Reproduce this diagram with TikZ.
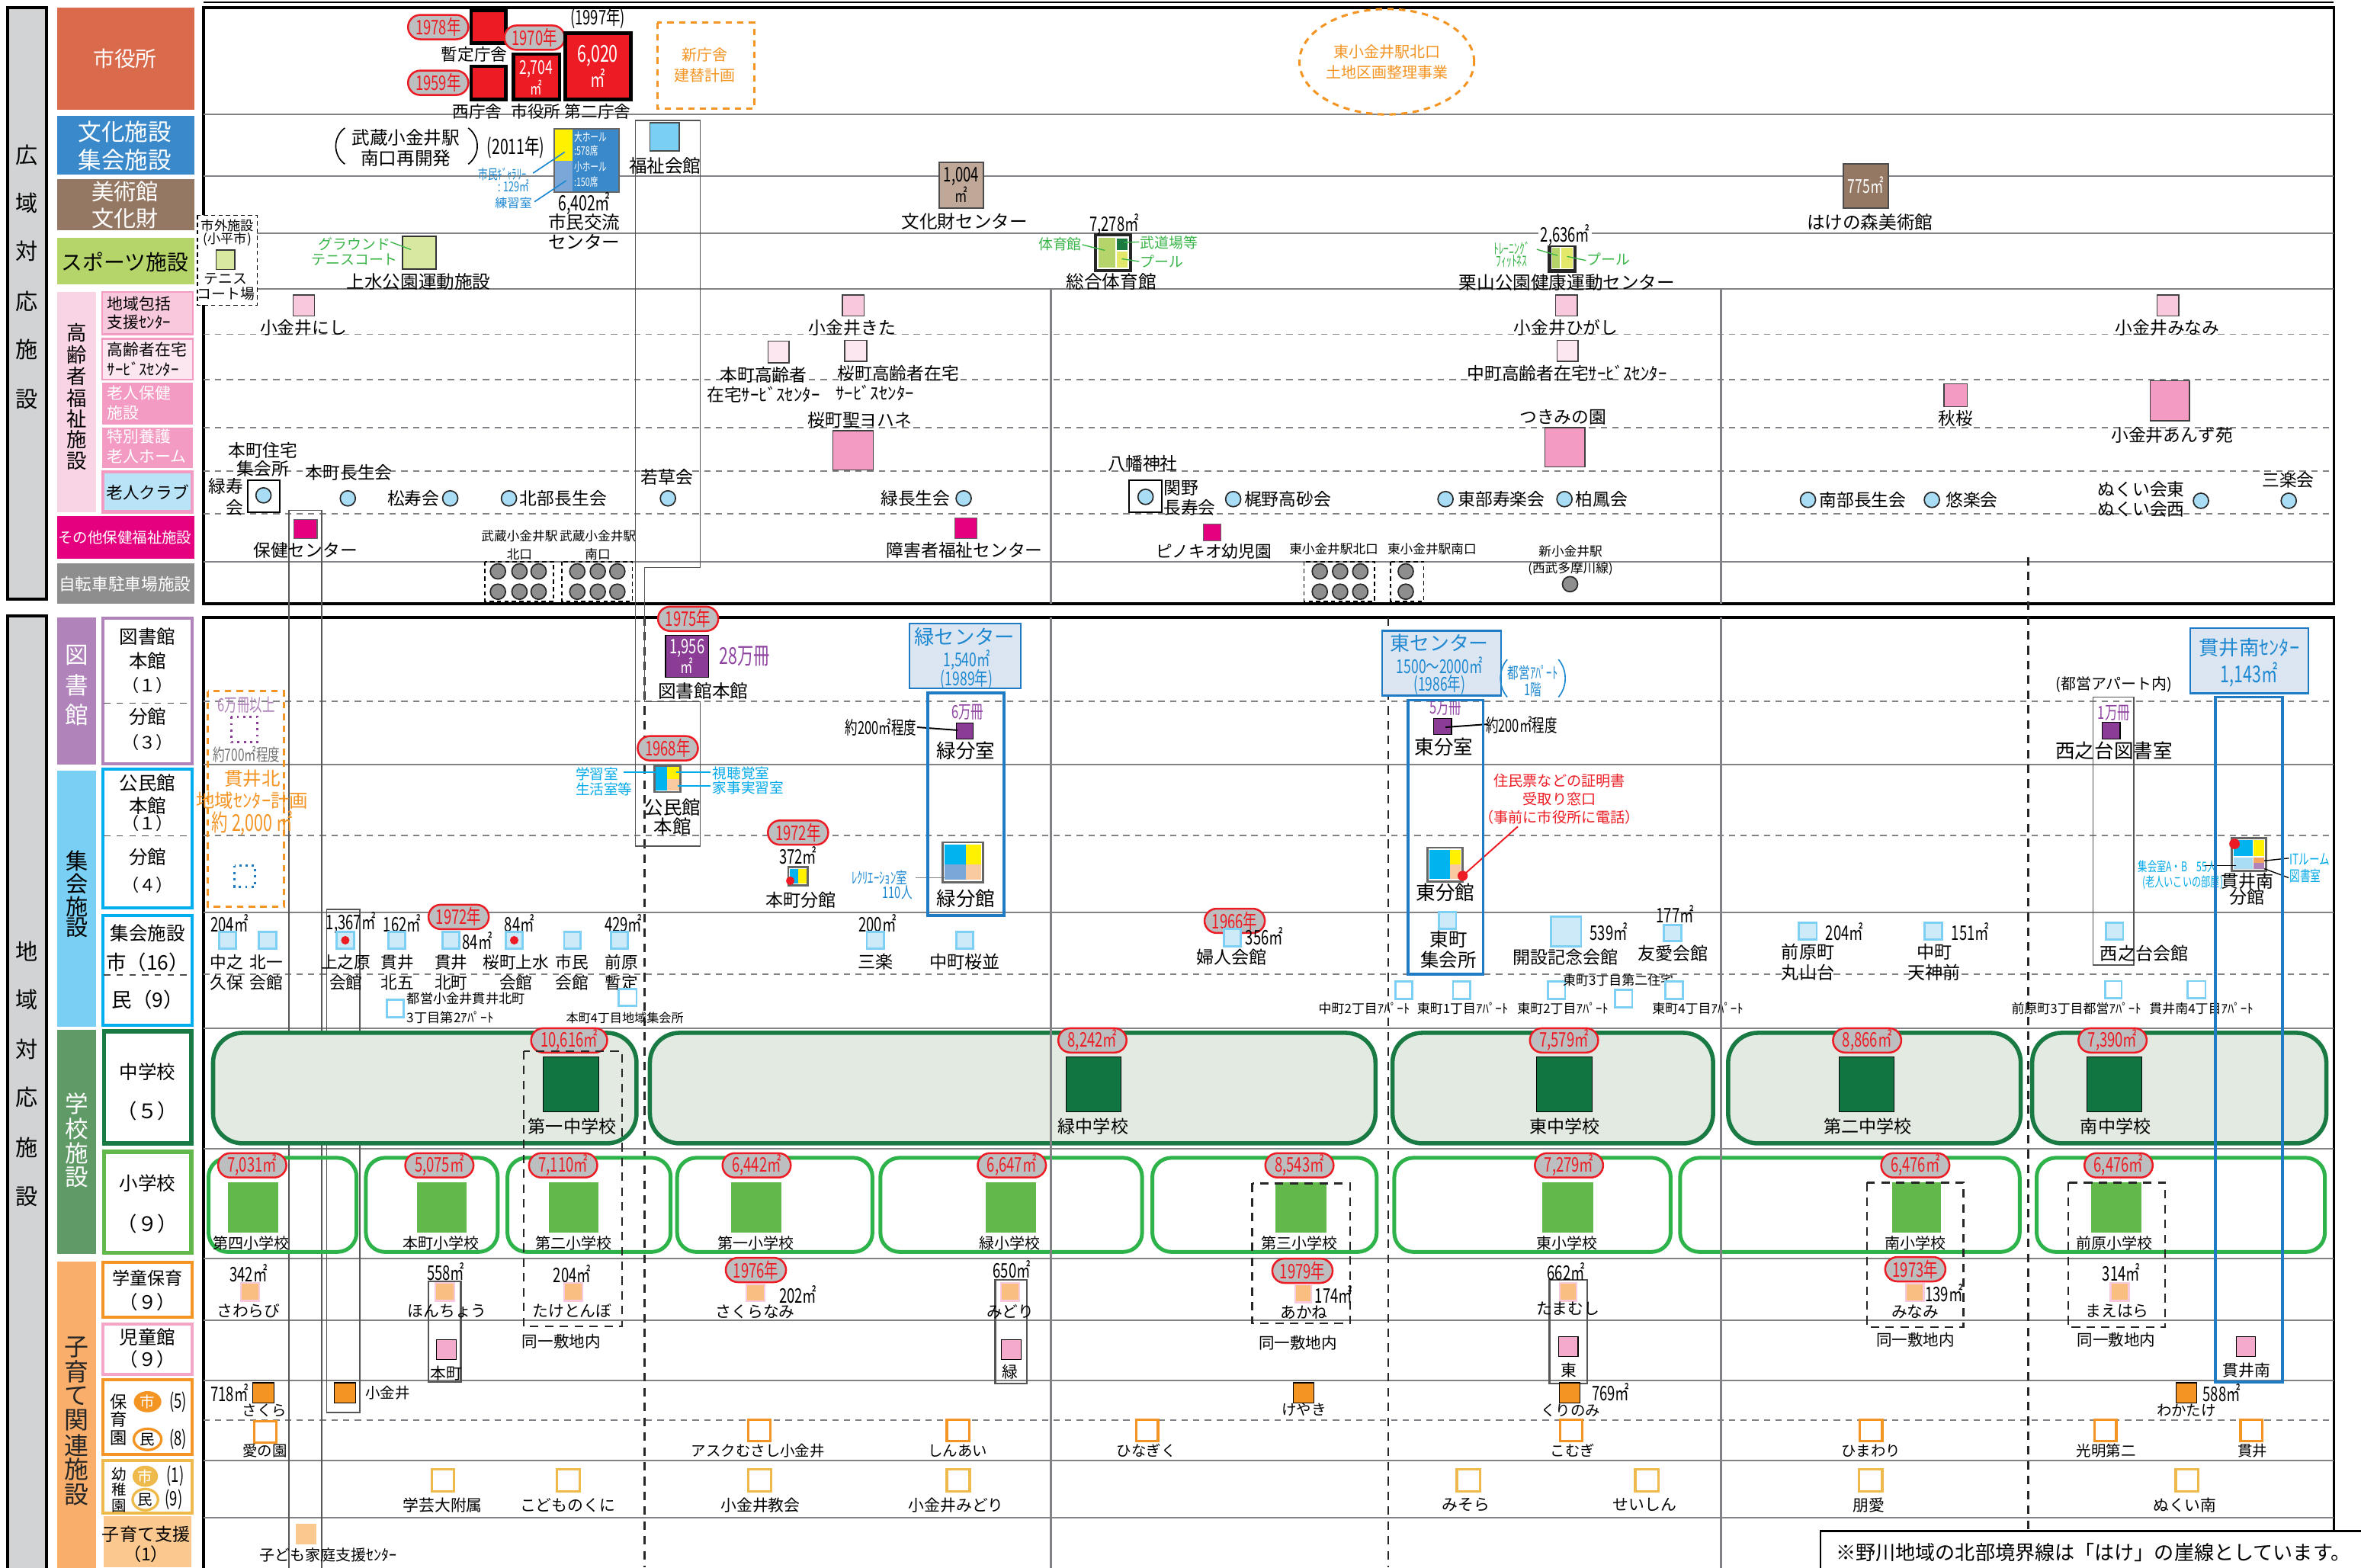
\documentclass[tikz,border=0pt]{standalone}
\usepackage{fontspec}
\setmainfont{Noto Sans CJK JP}
\newfontfamily\cnd[FakeStretch=0.7]{Noto Sans CJK JP}
\usetikzlibrary{shapes.misc,shapes.geometric}
\definecolor{cLeft}{HTML}{D1D3D4}
\definecolor{cRed}{HTML}{ED1C24}
\definecolor{cShiyaku}{HTML}{DA6A4C}
\definecolor{cBunka}{HTML}{3A8ACB}
\definecolor{cBijutsu}{HTML}{957863}
\definecolor{cSports}{HTML}{B5D56A}
\definecolor{cElderBg}{HTML}{F9D4E4}
\definecolor{cHokatsu}{HTML}{F8C8DC}
\definecolor{cZaitaku}{HTML}{FCE6F0}
\definecolor{cRoken}{HTML}{F39BC3}
\definecolor{cClub}{HTML}{B9E4F7}
\definecolor{cClubC}{HTML}{A8DDF5}
\definecolor{cSonota}{HTML}{E4007F}
\definecolor{cBike}{HTML}{8E8E8E}
\definecolor{cLib}{HTML}{B083BA}
\definecolor{cLibSq}{HTML}{8B3D96}
\definecolor{cShukai}{HTML}{7ACFF4}
\definecolor{cShukaiB}{HTML}{00AEEF}
\definecolor{cSchool}{HTML}{5F9A67}
\definecolor{cJHS}{HTML}{1A7A43}
\definecolor{cJHSsq}{HTML}{107540}
\definecolor{cJHSfill}{HTML}{E2EAE2}
\definecolor{cES}{HTML}{2DB34A}
\definecolor{cESsq}{HTML}{62B84A}
\definecolor{cKosodate}{HTML}{F9AE6B}
\definecolor{cGakudo}{HTML}{F39423}
\definecolor{cGakSq}{HTML}{F9BF80}
\definecolor{cGakBd}{HTML}{F8C9DE}
\definecolor{cJido}{HTML}{F4A6C8}
\definecolor{cJidoSq}{HTML}{F4AACB}
\definecolor{cYochi}{HTML}{EEBA4B}
\definecolor{cShien}{HTML}{FBC98F}
\definecolor{cPill}{HTML}{BDBEC0}
\definecolor{cBlueBox}{HTML}{1F7BC4}
\definecolor{cBlueFill}{HTML}{DCE6F2}
\definecolor{cCyan}{HTML}{00B5EF}
\definecolor{cYellow}{HTML}{FFF100}
\definecolor{cPeach}{HTML}{F9C9A0}
\definecolor{cLtBlue}{HTML}{7BA7D8}
\definecolor{cLtBlue2}{HTML}{A8DDF5}
\definecolor{cOrg2}{HTML}{F4A460}
\definecolor{cGreenTxt}{HTML}{3BB54A}
\definecolor{cBlueTxt}{HTML}{1E88D0}
\definecolor{cCyanTxt}{HTML}{00A9E8}
\definecolor{cOrange}{HTML}{F39423}
\definecolor{cGrid}{HTML}{808285}
\definecolor{cSportsSq}{HTML}{D9E8A0}
\definecolor{cBrownLt}{HTML}{BFA898}
\definecolor{cSqFill}{HTML}{CDEAF8}
\definecolor{cSqBd}{HTML}{7DD0F3}
\definecolor{cDkGreen}{HTML}{1A7A40}
\definecolor{cYelGreen}{HTML}{E4E86A}
\definecolor{cLibTxt}{HTML}{8E44A0}
\definecolor{cOutline}{HTML}{555555}
\tikzset{
  every node/.style={inner sep=0pt},
  fs/.style={font=\fontsize{#1}{\dimexpr #1pt*6/5\relax}\selectfont},
  cf/.style={font=\cnd\fontsize{#1}{\dimexpr #1pt*6/5\relax}\selectfont},
  pill/.style={rounded rectangle, draw=cRed, line width=0.9pt, fill=cPill, text=cRed, cf=9.5, inner xsep=1.5pt, inner ysep=0.5pt, minimum height=11.5pt},
  grid/.style={draw=cGrid, line width=0.8pt},
  gridd/.style={draw=cGrid, line width=0.7pt, dash pattern=on 3pt off 2.5pt},
  bdash/.style={draw=black!85, line width=0.9pt, dash pattern=on 4pt off 3pt},
  outl/.style={draw=cOutline, line width=0.6pt},
  bluebox/.style={draw=cBlueBox, line width=1.4pt},
  sqRed/.style={fill=cRed, draw=black, line width=1.6pt},
  sqHok/.style={fill=cHokatsu, draw=black!75, line width=0.5pt},
  sqZai/.style={fill=cZaitaku, draw=black!75, line width=0.5pt},
  sqRok/.style={fill=cRoken, draw=black!75, line width=0.5pt},
  sqMag/.style={fill=cSonota, draw=black!60, line width=0.4pt},
  sqShu/.style={fill=cSqFill, draw=cSqBd, line width=1pt},
  sqShuW/.style={fill=white, draw=cSqBd, line width=1pt},
  sqJHS/.style={fill=cJHSsq},
  sqES/.style={fill=cESsq},
  sqGak/.style={fill=cGakSq, draw=cGakBd, line width=0.8pt},
  sqJido/.style={fill=cJidoSq},
  sqHoi/.style={fill=cGakudo},
  sqHoiW/.style={fill=white, draw=cGakudo, line width=1.2pt},
  sqYo/.style={fill=white, draw=cYochi, line width=1.2pt},
  sqLib/.style={fill=cLibSq},
  club/.style={fill=cClubC, draw=black!85, line width=0.6pt},
  bike/.style={fill=cBike, draw=black!85, line width=0.6pt},
  jhsbox/.style={fill=cJHSfill, draw=cJHS, line width=2pt, rounded corners=14pt},
  esbox/.style={draw=cES, line width=1.8pt, rounded corners=9pt},
}
\newcommand\Tx[4][]{\node[fs=#3,#1] at (#2) {#4};}
\newcommand\Cx[4][]{\node[cf=#3,#1] at (#2) {#4};}
\newcommand\Rc[3]{\draw[#1] (#2) rectangle (#3);}
\newcommand\Ci[2]{\draw[#1] (#2) circle (3.6pt);}
\newcommand\Pl[2]{\node[pill] at (#1) {#2};}
\begin{document}
\begin{tikzpicture}[x=0.025cm,y=-0.025cm]
\useasboundingbox (0,0) rectangle (1568,1041);
\fill[white] (0,0) rectangle (1568,1041);

% ===== left columns =====
\draw[line width=1.5pt, fill=cLeft] (5,5) rectangle (31,398);
\foreach \c/\y in {広/103,域/135,対/167,応/200,施/232,設/265} \node[fs=10.5] at (18,\y) {\c};
\draw[line width=1.5pt, fill=cLeft] (5,409) rectangle (31,1046);
\foreach \c/\y in {地/632,域/664,対/697,応/729,施/762,設/795} \node[fs=10.5] at (18,\y) {\c};

\fill[cShiyaku] (38,5) rectangle (129,73); \Tx[white]{83,39}{10}{市役所}
\fill[cBunka] (38,77) rectangle (129,116); \Tx[white,align=center]{83,97}{11}{文化施設\\集会施設}
\fill[cBijutsu] (38,119) rectangle (129,153); \Tx[white,align=center]{83,136}{10.5}{美術館\\文化財}
\fill[cSports] (38,158) rectangle (129,189); \Tx{83,174}{10}{スポーツ施設}
\fill[cElderBg] (38,194) rectangle (64,340);
\foreach \c/\y in {高/221,齢/235.5,者/250,福/264.5,祉/278,施/292,設/306} \node[fs=9.5] at (51,\y) {\c};
\draw[fill=cHokatsu, draw=cRoken, line width=0.8pt] (68,194) rectangle (128,222);
\Tx[anchor=west]{71,202}{7.5}{地域包括} \Tx[anchor=west]{71,214}{7.5}{支援ｾﾝﾀｰ}
\draw[fill=cZaitaku, draw=cRoken, line width=0.8pt] (68,225) rectangle (128,252);
\Tx[anchor=west]{71,232}{7.5}{高齢者在宅} \Tx[anchor=west]{71,245}{7.5}{ｻｰﾋﾞｽｾﾝﾀｰ}
\fill[cRoken] (68,254) rectangle (128,282);
\Tx[anchor=west,white]{71,261}{7.5}{老人保健} \Tx[anchor=west,white]{71,274}{7.5}{施設}
\fill[cRoken] (68,284) rectangle (128,311);
\Tx[anchor=west,white]{71,290}{7.5}{特別養護} \Tx[anchor=west,white]{71,303}{7.5}{老人ホーム}
\draw[fill=cClub, draw=cRoken, line width=1.5pt] (68.5,313.5) rectangle (127.5,340);
\Tx{98,327}{7.8}{老人クラブ}
\fill[cSonota] (38,343) rectangle (129,371); \Tx[white]{83,357}{7}{その他保健福祉施設}
\fill[cBike] (38,374) rectangle (129,401); \Tx[white]{83,388}{7.8}{自転車駐車場施設}

\fill[cLib] (38,410) rectangle (64,508);
\foreach \c/\y in {図/435,書/455,館/475} \node[fs=11,white] at (51,\y) {\c};
\draw[fill=white, draw=cLib, line width=1.5pt] (68.5,410.5) rectangle (127.5,507.5);
\Tx{98,423}{8.8}{図書館} \Tx{98,439}{8.8}{本館} \Tx{98,455}{8}{（１）}
\draw[dashed, black!70, line width=0.5pt] (69,467) -- (127,467);
\Tx{98,476}{8.8}{分館} \Tx{98,493}{8}{（３）}

\fill[cShukai] (38,512) rectangle (64,682);
\foreach \c/\y in {集/572,会/587,施/602,設/616} \node[fs=10.5] at (51,\y) {\c};
\draw[fill=white, draw=cShukaiB, line width=1.5pt] (68.5,511) rectangle (127.5,603);
\Tx{98,520}{8.8}{公民館} \Tx{98,535}{8.8}{本館} \Tx{98,547}{8}{（１）}
\draw[dashed, black!70, line width=0.5pt] (69,555) -- (127,555);
\Tx{98,569}{8.8}{分館} \Tx{98,588}{8}{（４）}
\draw[fill=white, draw=cShukaiB, line width=1.5pt] (68.5,608) rectangle (127.5,681);
\Tx{98,620}{8.8}{集会施設} \Tx{98,639}{9.5}{市（16）}
\draw[dashed, black!70, line width=0.5pt] (69,647.6) -- (127,647.6);
\Tx{98,664}{9.5}{民（9）}

\fill[cSchool] (38,684) rectangle (64,833);
\foreach \c/\y in {学/733,校/750,施/766,設/782} \node[fs=11,white] at (51,\y) {\c};
\draw[fill=white, draw=cJHS, line width=2pt] (69,685) rectangle (127,759.5);
\Tx{98,712}{8.8}{中学校} \Tx{98,738}{9.5}{（５）}
\draw[fill=white, draw=cESsq, line width=2pt] (69,765) rectangle (127,832);
\Tx{98,786}{8.8}{小学校} \Tx{98,813}{9.5}{（９）}

\fill[cKosodate] (38,838) rectangle (64,1046);
\foreach \c/\y in {子/895,育/911,て/927,関/943,連/960,施/976,設/993} \node[fs=11.5,black!85] at (51,\y) {\c};
\draw[fill=white, draw=cGakudo, line width=1.5pt] (68.5,838.5) rectangle (127.5,875);
\Tx{98,849}{8.3}{学童保育} \Tx{98,865}{8.8}{（９）}
\draw[fill=white, draw=cJido, line width=1.5pt] (68.5,879.5) rectangle (127.5,913);
\Tx{98,888}{8.8}{児童館} \Tx{98,903}{8.8}{（９）}
\draw[fill=white, draw=cGakudo, line width=1.5pt] (68.5,916.5) rectangle (127.5,966);
\Tx{79,931}{8}{保} \Tx{79,942.5}{8}{育} \Tx{79,955}{8}{園}
\node[ellipse, fill=cGakudo, minimum width=13pt, minimum height=10pt, text=white, fs=7] at (98,931) {市};
\node[ellipse, draw=cGakudo, line width=1.2pt, minimum width=13pt, minimum height=10pt, fs=7] at (98,956) {民};
\Cx{118.4,931}{9.5}{(5)} \Cx{118.4,956}{9.5}{(8)}
\draw[fill=white, draw=cYochi, line width=1.5pt] (68.5,970) rectangle (127.5,1005);
\Tx{79,979}{7}{幼} \Tx{79,989.5}{7}{稚} \Tx{79,1000}{7}{園}
\node[ellipse, fill=cYochi, minimum width=12pt, minimum height=10pt, text=white, fs=7] at (96.5,980.5) {市};
\node[ellipse, draw=cYochi, line width=1.2pt, minimum width=12pt, minimum height=10pt, fs=7] at (96.5,996) {民};
\Cx{116.4,980.5}{9.5}{(1)} \Cx{115.4,996}{9.5}{(9)}
\fill[cShien] (69,1007) rectangle (127,1041);
\Tx{97,1019}{8.3}{子育て支援} \Tx{97,1032}{8.3}{（1）}

% ===== frames and grid =====
\draw[line width=0.6pt] (135,1.5) -- (1550,1.5);
\draw[line width=1.4pt] (135,5) rectangle (1550,401);
\foreach \y in {76,117,155,192,373} \draw[grid] (135,\y) -- (1550,\y);
\foreach \y in {222,252,284,313,341} \draw[gridd] (135,\y) -- (1550,\y);
\draw[grid, line width=1.2pt] (698,192) -- (698,401);
\draw[grid, line width=1.2pt] (1143,192) -- (1143,401);
\draw[line width=1.4pt] (135,410) rectangle (1550,1046);
\foreach \y in {508,606,683,763,836,877,917,970,1008} \draw[grid] (135,\y) -- (1550,\y);
\foreach \y in {466,555,647,943} \draw[gridd] (135,\y) -- (1550,\y);
\draw[bdash] (428,410) -- (428,1041);
\draw[bdash] (922,410) -- (922,1041);
\draw[bdash] (1347,370) -- (1347,1041);

% outline columns
\draw[outl] (192,339) rectangle (213.6,1046);
\draw[outl] (217,604) rectangle (239,938);
\draw[outl] (422,80) -- (465,80) -- (465,377) -- (428,377) -- (428,466) -- (465,466) -- (465,562) -- (422,562) -- cycle;
\draw[outl, line width=0.9pt] (284.6,851) rectangle (306,918);
\draw[outl, line width=0.9pt] (661,850) rectangle (682,919);
\draw[outl, line width=0.9pt] (1029,850) rectangle (1054,919);
\draw[outl] (1390,463) rectangle (1417,641);

% ===== 市役所 row =====
\Pl{291,18}{1978年}
\Rc{sqRed}{313,7}{336,28.6} \Tx{315,36}{7.8}{暫定庁舎}
\Pl{291,55}{1959年}
\Rc{sqRed}{313,44}{336,66} \Tx{317,74}{7.8}{西庁舎}
\Pl{355,25}{1970年}
\Rc{sqRed}{341,36}{371.5,66} \Cx[white]{356,46}{9}{2,704} \Cx[white]{356,58}{8}{㎡}
\Tx{356,74}{7.8}{市役所}
\Cx{397,12}{9.5}{(1997年)}
\Rc{sqRed}{375.5,22}{419,66} \Cx[white]{397,37}{11}{6,020} \Cx[white]{397,52}{10}{㎡}
\Tx{397,74}{7.8}{第二庁舎}
\draw[cOrange, line width=1.1pt, dash pattern=on 3pt off 2.5pt] (436.6,15) rectangle (501,72);
\Tx[cOrange]{468,36.5}{7.2}{新庁舎} \Tx[cOrange]{468,50}{7.2}{建替計画}
\draw[cOrange, line width=1.1pt, dash pattern=on 3pt off 2.5pt] (921,41) ellipse (1.45cm and 0.875cm);
\Tx[cOrange]{921,34.5}{7.2}{東小金井駅北口} \Tx[cOrange]{921,48}{7.2}{土地区画整理事業}

% ===== 文化施設 row =====
\draw[line width=0.6pt] (229,85) .. controls (221,91) and (221,103) .. (229,109);
\draw[line width=0.6pt] (311,85) .. controls (319,91) and (319,103) .. (311,109);
\Tx{269.5,91.5}{8.5}{武蔵小金井駅} \Tx{269.5,105}{8.5}{南口再開発}
\Cx{342.6,98}{10}{(2011年)}
\fill[cYellow] (368,85.5) rectangle (380,107);
\fill[cLtBlue] (368,107) rectangle (380,127.7);
\fill[cBunka] (380,85.5) rectangle (411,127.7);
\draw[draw=black!60, line width=0.8pt] (368,85.5) rectangle (411,127.7);
\Cx[white,anchor=west]{381,91}{5.5}{大ホール} \Cx[white,anchor=west]{381,100}{5.5}{:578席}
\Cx[white,anchor=west]{381,111}{5.5}{小ホール} \Cx[white,anchor=west]{381,121}{5.5}{:150席}
\draw[cBlueTxt, line width=0.6pt] (354,115) -- (375,101);
\draw[cBlueTxt, line width=0.6pt] (355,134) -- (376,120);
\Cx[cBlueTxt]{333.7,115.6}{6.5}{市民ｷﾞｬﾗﾘｰ} \Cx[cBlueTxt]{341,123.4}{6.5}{: 129㎡}
\Tx[cBlueTxt]{341,135}{5.8}{練習室}
\Cx{388,135}{10}{6,402㎡} \Tx{388,147.5}{8.5}{市民交流} \Tx{388,160.5}{8.5}{センター}
\draw[fill=cShukai, draw=black!70, line width=0.6pt] (431.6,81.5) rectangle (451,100.4);
\Tx{441.6,110}{8.5}{福祉会館}

% ===== 美術館 row =====
\draw[fill=cBrownLt, draw=black!70, line width=0.7pt] (623.7,108) rectangle (653,138);
\Cx{638.4,117}{9.5}{1,004} \Cx{638.4,129}{8.5}{㎡}
\Tx{640.6,147}{8.5}{文化財センター}
\draw[fill=cBijutsu, draw=black!70, line width=0.7pt] (1224,108.7) rectangle (1254,138.4);
\Cx[white]{1239,123}{9}{775㎡}
\Tx{1241.8,147.8}{8.5}{はけの森美術館}

% ===== スポーツ row =====
\draw[fill=white, draw=black, line width=0.6pt, dash pattern=on 2pt off 1.5pt] (131,143) rectangle (170.8,202.7);
\Tx{151,150}{6.2}{市外施設} \Tx{151,159}{6.2}{(小平市)}
\draw[fill=cSportsSq, draw=black!80, line width=0.5pt] (143.6,166) rectangle (156,179);
\Tx{150,185.5}{6.8}{テニス} \Tx{150,195}{6.8}{コート場}
\draw[fill=cSportsSq, draw=black!80, line width=0.8pt] (267.5,157) rectangle (289.7,178.6);
\draw[cGreenTxt, line width=0.5pt] (259.4,160.7) -- (273,165.8);
\Tx[cGreenTxt]{235.5,162}{6.8}{グラウンド} \Tx[cGreenTxt]{235.5,172.5}{6.8}{テニスコート}
\Tx{278,187}{8.5}{上水公園運動施設}
\draw[fill=white, draw=black!85, line width=1.5pt] (727.5,156) rectangle (750.7,179.7);
\fill[cSports] (729.5,158) rectangle (740.6,177.7);
\fill[cDkGreen] (741.8,158.3) rectangle (748.8,166.2);
\fill[cYelGreen] (741.8,167.2) rectangle (748.8,177.7);
\Cx{740,149}{9.5}{7,278㎡}
\draw[cGreenTxt, line width=0.5pt] (718.7,162.5) -- (733.8,166.3);
\draw[cGreenTxt, line width=0.5pt] (746.4,161) -- (756.5,160.7);
\draw[cGreenTxt, line width=0.5pt] (745,171.9) -- (756.5,173.7);
\Tx[cGreenTxt]{704,162}{6.8}{体育館}
\Tx[cGreenTxt,anchor=west]{757,161}{6.8}{武道場等}
\Tx[cGreenTxt,anchor=west]{757,173.7}{6.8}{プール}
\Tx{738,187}{8.5}{総合体育館}
\draw[fill=white, draw=black!85, line width=1.5pt] (1029,163) rectangle (1046,180);
\fill[cSports] (1030.7,164.7) rectangle (1035.8,178.3);
\fill[cYelGreen] (1037,164.7) rectangle (1044.3,178.3);
\Cx[fill=white,inner xsep=1pt]{1039.5,156}{9.5}{2,636㎡}
\draw[cGreenTxt, line width=0.5pt] (1020.6,165.6) -- (1034.4,169.7);
\draw[cGreenTxt, line width=0.5pt] (1040.7,170.3) -- (1053.3,173);
\Cx[cGreenTxt]{1004,165}{7}{ﾄﾚｰﾆﾝｸﾞ} \Cx[cGreenTxt]{1004,173.5}{7}{ﾌｨｯﾄﾈｽ}
\Tx[cGreenTxt,anchor=west]{1053.5,172}{6.8}{プール}
\Tx{1040.7,187.5}{8.5}{栗山公園健康運動センター}

% ===== 高齢者 rows =====
\Rc{sqHok}{194.7,196}{209,210} \Tx{201.5,217.6}{8.2}{小金井にし}
\Rc{sqHok}{559.5,196}{574,210} \Tx{566,217.6}{8.2}{小金井きた}
\Rc{sqHok}{1033,196}{1047.5,210} \Tx{1040,217.6}{8.2}{小金井ひがし}
\Rc{sqHok}{1432.7,196}{1447,210} \Tx{1439.5,217.6}{8.2}{小金井みなみ}
\Rc{sqZai}{510,226.6}{524,241} \Tx{507,249}{8.2}{本町高齢者} \Tx{507,262}{8.2}{在宅ｻｰﾋﾞｽｾﾝﾀｰ}
\Rc{sqZai}{561,226}{575.6,240} \Tx{596.5,248}{8.2}{桜町高齢者在宅} \Tx{581,261}{8.2}{ｻｰﾋﾞｽｾﾝﾀｰ}
\Rc{sqZai}{1034,226}{1048,240} \Tx{1040.7,248}{8.2}{中町高齢者在宅ｻｰﾋﾞｽｾﾝﾀｰ}
\Tx{571,279}{8.2}{桜町聖ヨハネ} \Rc{sqRok}{553,286}{580,312}
\Rc{sqRok}{1291,255}{1306.5,270} \Tx{1299,278}{8.2}{秋桜}
\Rc{sqRok}{1428,253}{1454,279.5} \Tx{1442.5,289}{8.2}{小金井あんず苑}
\Tx{1038,277}{8.2}{つきみの園} \Rc{sqRok}{1026,284}{1052.5,310}

% 老人クラブ
\draw[line width=0.8pt] (164.5,319) rectangle (186,340.4);
\draw[line width=0.8pt] (749.7,319) rectangle (771.6,340.4);
\foreach \x/\y in {175/329,231/331,299/331,338/331,443.6/331,640/331,760.8/330,819/331.5,960/331.5,1039/331.5,1200.7/332,1283/332,1461.7/332.6,1520/332.6}
  {\Ci{club}{\x,\y}}
\Tx{174.6,299}{8.2}{本町住宅} \Tx{174.6,311.4}{8.2}{集会所}
\Tx{150,323}{8.2}{緑寿} \Tx{155.7,337}{8.2}{会}
\Tx{231.7,313.6}{8.2}{本町長生会}
\Tx{274.6,331}{8.2}{松寿会}
\Tx[anchor=west]{345,331}{8.2}{北部長生会}
\Tx{443,317}{8.2}{若草会}
\Tx{608,331}{8.2}{緑長生会}
\Tx{759,308}{8.2}{八幡神社}
\Tx[anchor=west]{772.5,324}{8.2}{関野} \Tx[anchor=west]{772.5,337}{8.2}{長寿会}
\Tx[anchor=west]{826,331.5}{8.2}{梶野高砂会}
\Tx[anchor=west]{968,331.5}{8.2}{東部寿楽会}
\Tx[anchor=west]{1046,331.5}{8.2}{柏鳳会}
\Tx[anchor=west]{1208,332}{8.2}{南部長生会}
\Tx[anchor=west]{1292,332}{8.2}{悠楽会}
\Tx{1422,325}{8.2}{ぬくい会東} \Tx{1422,338}{8.2}{ぬくい会西}
\Tx{1519.6,319}{8.2}{三楽会}

% その他
\Rc{sqMag}{195,345}{210.6,357.6} \Tx{202.8,365.5}{8.2}{保健センター}
\Rc{sqMag}{634,344}{648.7,357.6} \Tx{640.6,365.5}{8.2}{障害者福祉センター}
\Rc{sqMag}{799,348}{811,359} \Tx{806,366}{7.8}{ピノキオ幼児園}

% 自転車
\draw[black, line width=0.6pt, dash pattern=on 2pt off 1.5pt] (322,373) rectangle (367.7,399.4);
\draw[black, line width=0.6pt, dash pattern=on 2pt off 1.5pt] (373,373) rectangle (420,399.4);
\draw[black, line width=0.6pt, dash pattern=on 2pt off 1.5pt] (866,373) rectangle (913,399.4);
\draw[black, line width=0.6pt, dash pattern=on 2pt off 1.5pt] (923.6,373) rectangle (945.5,399.4);
\foreach \x in {330.7,345,357.7,383.4,397,410,876.5,890,903.4,933.6} {\Ci{bike}{\x,379.5} \Ci{bike}{\x,393}}
\Ci{bike}{1042.7,388}
\Tx{345,356}{6}{武蔵小金井駅} \Tx{345,368}{6}{北口}
\Tx{397,356}{6}{武蔵小金井駅} \Tx{397,368}{6}{南口}
\Tx{885.8,364.5}{6}{東小金井駅北口}
\Tx{951,364.5}{6}{東小金井駅南口}
\Tx{1043,366}{6}{新小金井駅} \Tx{1043,377.5}{6}{(西武多摩川線)}

% ===== 図書館 rows =====
\draw[cOrange, line width=1.1pt, dash pattern=on 3pt off 2.5pt] (138,459) rectangle (188.4,602);
\Cx[cLib]{163.7,468}{8.5}{6万冊以上}
\draw[cLibSq, line width=1pt, dotted] (153.6,476) rectangle (170.8,493);
\Cx[black!55]{163.7,501}{8}{約700㎡程度}
\Tx[cOrange]{167.5,517}{8.8}{貫井北}
\Tx[cOrange]{167.5,531.8}{8.8}{地域ｾﾝﾀｰ計画}
\Cx[cOrange]{167.5,547}{11}{約 2,000 ㎡}
\draw[cBlueBox, line width=1pt, dotted] (155.7,575) rectangle (169.3,589);

\Pl{457,411}{1975年}
\Rc{sqLib}{442,422}{470.6,450}
\Cx[white]{456.3,430.5}{9.5}{1,956} \Cx[white]{456.3,442}{8.5}{㎡}
\Cx[cLibTxt]{494.5,436}{11}{28万冊}
\Tx{467,459}{8.5}{図書館本館}
\draw[fill=cBlueFill, draw=cBlueBox, line width=0.8pt] (604,414) rectangle (678,457);
\Tx[cBlueTxt]{640.6,423}{9.5}{緑センター}
\Cx[cBlueTxt]{642,438.5}{9}{1,540㎡}
\Cx[cBlueTxt]{642,451.5}{9}{(1989年)}
\draw[fill=cBlueFill, draw=cBlueBox, line width=0.8pt] (918,419) rectangle (997,462);
\Tx[cBlueTxt]{956,427}{9.3}{東センター}
\Cx[cBlueTxt]{956,442}{9}{1500～2000㎡}
\Cx[cBlueTxt]{956,455}{9}{(1986年)}
\draw[cBlueTxt, line width=0.6pt] (1001,438) .. controls (995,445) and (995,456) .. (1001,463);
\draw[cBlueTxt, line width=0.6pt] (1035,438) .. controls (1041,445) and (1041,456) .. (1035,463);
\Cx[cBlueTxt]{1018,447}{7.5}{都営ｱﾊﾟｰﾄ} \Cx[cBlueTxt]{1018,458}{7.5}{1階}
\draw[fill=cBlueFill, draw=cBlueBox, line width=0.8pt] (1454.6,417) rectangle (1533,460.5);
\Tx[cBlueTxt]{1493.7,430}{9.5}{貫井南ｾﾝﾀｰ}
\Cx[cBlueTxt]{1493.7,448}{11}{1,143㎡}
\Tx{1404,454.5}{7.2}{(都営アパート内)}

\Cx[cLibTxt]{642.6,473}{8.5}{6万冊}
\Rc{sqLib}{635,480}{646.4,491}
\Tx{641.4,498.5}{9.2}{緑分室}
\Cx{585,483}{8.5}{約200㎡程度}
\draw[line width=0.7pt] (609,483) -- (636,485);
\Cx[cLibTxt]{960,470}{8.5}{5万冊}
\Rc{sqLib}{952,477}{964,488}
\Tx{959,496}{9.2}{東分室}
\Cx{1010.5,481.5}{8.5}{約200㎡程度}
\draw[line width=0.7pt] (960,483) -- (988,481);
\Cx[cLibTxt]{1404,473.5}{8.5}{1万冊}
\Rc{sqLib}{1396,479.5}{1408,491}
\Tx{1404,498.5}{9.2}{西之台図書室}

% 公民館
\Pl{443.5,497}{1968年}
\fill[cCyan] (435.5,509.5) rectangle (443,525);
\fill[cYellow] (443,509.5) rectangle (451,517.5);
\fill[cPeach] (443,517.5) rectangle (451,525);
\draw[draw=black!60, line width=1pt] (434.6,508.5) rectangle (451.7,526);
\draw[cCyanTxt, line width=0.6pt] (414,513) -- (436.6,513);
\draw[cCyanTxt, line width=0.6pt] (449,513) -- (472,513);
\draw[cCyanTxt, line width=0.6pt] (450,522) -- (472,522);
\Tx[cCyanTxt,anchor=west]{382,514}{6.7}{学習室}
\Tx[cCyanTxt,anchor=west]{382,524}{6.7}{生活室等}
\Tx[cCyanTxt,anchor=west]{473,513.6}{6.7}{視聴覚室}
\Tx[cCyanTxt,anchor=west]{473,523}{6.7}{家事実習室}
\Tx{446.7,536.4}{8.8}{公民館} \Tx{446.7,549}{8.8}{本館}

\Pl{530,553}{1972年}
\Cx{530,568}{9.5}{372㎡}
\fill[cCyan] (524.5,577) rectangle (530,587);
\fill[cYellow] (530,577) rectangle (535.6,587);
\draw[draw=black!60, line width=1pt] (523.5,576) rectangle (536.6,588);
\fill[cRed] (524.8,585) circle (2pt);
\Tx{531.8,598}{8.3}{本町分館}
\draw[black!50, line width=0.6pt] (608,583) -- (628,583);
\Cx[cBlueTxt]{584,583}{7.5}{ﾚｸﾘｴｰｼｮﾝ室} \Cx[cBlueTxt]{596,593}{7.5}{110人}
\fill[cCyan] (627.5,561) rectangle (641.5,574);
\fill[cYellow] (641.5,561) rectangle (651.5,574);
\fill[cLtBlue] (627.5,574) rectangle (641.5,584.5);
\fill[cPeach] (641.5,574) rectangle (651.5,584.5);
\draw[draw=black!60, line width=1pt] (626,559.5) rectangle (653,586);
\Tx{641.4,597}{9.2}{緑分館}

\fill[cCyan] (949.5,564.5) rectangle (963,584);
\fill[cYellow] (963,564.5) rectangle (970,574);
\fill[cPeach] (963,574) rectangle (970,584);
\draw[draw=black!60, line width=1pt] (948,563) rectangle (971.4,585.5);
\draw[cRed, line width=0.7pt] (971.4,581.7) -- (1008,549);
\fill[cRed] (971.4,581.7) circle (2.4pt);
\Tx[cRed]{1035.7,518.8}{6.9}{住民票などの証明書}
\Tx[cRed]{1035.7,530.5}{6.9}{受取り窓口}
\Tx[cRed]{1035.7,543}{6.9}{（事前に市役所に電話）}
\Tx{960,593}{9.2}{東分館}

\fill[cCyan] (1483.5,558) rectangle (1496,568.5);
\fill[cYellow] (1496.5,558) rectangle (1503.5,568.5);
\fill[cLtBlue2] (1483.5,569.5) rectangle (1496,577);
\fill[cOrg2] (1496.5,569.5) rectangle (1503.5,573);
\fill[cLib] (1496.5,573) rectangle (1503.5,577);
\draw[draw=black!60, line width=1pt] (1482,556.5) rectangle (1505,578.4);
\fill[cRed] (1484,560.5) circle (2.5pt);
\draw[line width=0.5pt] (1463.5,575) -- (1485,575);
\draw[line width=0.5pt] (1503.8,571.7) -- (1520,570);
\draw[line width=0.5pt] (1503.8,577) -- (1520,583);
\Cx[cCyanTxt]{1446,575.5}{6.3}{集会室A・B　55人}
\Cx[cCyanTxt]{1449.6,586}{6.3}{(老人いこいの部屋)}
\Cx[cCyanTxt,anchor=west]{1520.5,571}{7}{ITルーム}
\Cx[cCyanTxt,anchor=west]{1520.5,582}{7}{図書室}
\Tx{1492.4,585}{8.3}{貫井南} \Tx{1492.4,595.6}{8.3}{分館}

% ===== 集会施設 rows =====
\Cx{152.4,613}{9.5}{204㎡} \Rc{sqShu}{145.6,619}{156.7,630}
\Tx{150.6,639}{7.8}{中之} \Tx{150.6,652.6}{7.8}{久保}
\Rc{sqShu}{172,619}{183.4,630} \Tx{177,639}{7.8}{北一} \Tx{177,652.6}{7.8}{会館}
\Cx{233,613}{9.5}{1,367㎡} \Rc{sqShu}{223.7,619}{235,630} \fill[cRed] (229.3,624.5) circle (2pt);
\Tx{229.7,639}{7.8}{上之原} \Tx{229.7,652.6}{7.8}{会館}
\Cx{267,613}{9.5}{162㎡} \Rc{sqShu}{258,619}{269,630}
\Tx{264,639}{7.8}{貫井} \Tx{264,652.6}{7.8}{北五}
\Pl{304.6,609}{1972年}
\Rc{sqShu}{294,619}{305,630} \Cx{317,625}{9.5}{84㎡}
\Tx{299.7,639}{7.8}{貫井} \Tx{299.7,652.6}{7.8}{北町}
\Cx{345,613}{9.5}{84㎡} \Rc{sqShu}{336,619}{347,630} \fill[cRed] (341.5,624.5) circle (2pt);
\Tx{342.6,639}{7.8}{桜町上水} \Tx{342.6,652.6}{7.8}{会館}
\Rc{sqShu}{374.6,619}{385.4,630} \Tx{380,639}{7.8}{市民} \Tx{380,652.6}{7.8}{会館}
\Cx{414,613}{9.5}{429㎡} \Rc{sqShu}{405.6,619}{417,630}
\Tx{412.7,639}{7.8}{前原} \Tx{412.7,652.6}{7.8}{暫定}
\Rc{sqShuW}{257,664}{268,675.5}
\Tx[anchor=west]{270,663}{6.2}{都営小金井貫井北町}
\Tx[anchor=west]{270,676}{6.2}{3丁目第2ｱﾊﾟｰﾄ}
\Rc{sqShuW}{411,657}{422.7,668} \Tx{415,676}{5.8}{本町4丁目地域集会所}
\Cx{582.7,613}{9.5}{200㎡} \Rc{sqShu}{575.6,619}{587,630} \Tx{581.4,639}{8.3}{三楽}
\Rc{sqShu}{635,619}{646.4,630} \Tx{640.6,639}{8.3}{中町桜並}
\Pl{820,611.6}{1966年}
\Rc{sqShu}{812.7,617}{824,628.6} \Cx{839.7,622}{9.5}{356㎡} \Tx{817.8,636}{8.3}{婦人会館}
\Rc{sqShu}{955.8,605.6}{967,617} \Tx{962,624}{8.8}{東町} \Tx{962,637.5}{8.8}{集会所}
\Rc{sqShu}{1030,609}{1050,628.6} \Cx{1068.4,618.6}{9.5}{539㎡} \Tx{1039.5,636}{8.3}{開設記念会館}
\Cx{1112.5,607}{9.5}{177㎡} \Rc{sqShu}{1105,614.5}{1116.8,625} \Tx{1111,633.5}{8.3}{友愛会館}
\Rc{sqShu}{1194.7,613}{1206.5,624} \Cx{1225,619}{9.5}{204㎡}
\Tx{1200.7,632}{8.3}{前原町} \Tx{1200.7,646}{8.3}{丸山台}
\Rc{sqShu}{1278,613}{1289.6,624} \Cx{1308.5,619}{9.5}{151㎡}
\Tx{1284.6,632}{8.3}{中町} \Tx{1284.6,646}{8.3}{天神前}
\Rc{sqShu}{1398.7,613}{1410,624} \Tx{1424,633}{8.3}{西之台会館}
\Rc{sqShuW}{926.8,652}{938,663.6} \Tx{906,670}{6.1}{中町2丁目ｱﾊﾟｰﾄ}
\Rc{sqShuW}{965,652}{976.5,663.6} \Tx{971.4,670}{6.1}{東町1丁目ｱﾊﾟｰﾄ}
\Rc{sqShuW}{1028,652}{1039.4,663.6} \Tx{1038,670}{6.1}{東町2丁目ｱﾊﾟｰﾄ}
\Rc{sqShuW}{1072.7,657.6}{1084,669} \Tx{1074.7,651}{6.1}{東町3丁目第二住宅}
\Rc{sqShuW}{1106,652}{1117.5,663.6} \Tx{1127.6,670}{6.1}{東町4丁目ｱﾊﾟｰﾄ}
\Rc{sqShuW}{1398,651.6}{1409,663} \Tx{1379,670}{6.1}{前原町3丁目都営ｱﾊﾟｰﾄ}
\Rc{sqShuW}{1453,651.6}{1464.7,663} \Tx{1462,670}{6.1}{貫井南4丁目ｱﾊﾟｰﾄ}

% ===== 中学校 =====
\foreach \a/\b in {141.5/422.7,431.6/913.5,924.8/1137.7,1147.7/1342,1349.6/1545}
  {\draw[jhsbox] (\a,686) rectangle (\b,759.4);}
\Rc{sqJHS}{360.7,702}{397.6,738.4} \Tx{380,748}{8.3}{第一中学校}
\Rc{sqJHS}{707.9,702}{744.4,738.4} \Tx{726,748}{8.3}{緑中学校}
\Rc{sqJHS}{1020.5,702}{1057.6,738.4} \Tx{1039,748}{8.3}{東中学校}
\Rc{sqJHS}{1221.6,702}{1258,738.4} \Tx{1240.5,748}{8.3}{第二中学校}
\Rc{sqJHS}{1386,702}{1422.4,738.4} \Tx{1405,748}{8.3}{南中学校}
\Pl{378,691}{10,616㎡} \Pl{725.5,691}{8,242㎡} \Pl{1038.7,691}{7,579㎡}
\Pl{1240,691}{8,866㎡} \Pl{1403,691}{7,390㎡}

% ===== 小学校 =====
\foreach \a/\b in {138.5/236.8,243/330.5,337/445.4,449.7/579.4,584.7/758.5,765.3/914.3,926/1109.5,1115.8/1341.3,1352.6/1544}
  {\draw[esbox] (\a,769) rectangle (\b,831.5);}
\foreach \a/\b in {151.6/185,277/310,364.5/397.6,485.7/519.2,654.5/688,847/880.8,1024/1058,1256.4/1289,1389/1422}
  {\fill[cESsq] (\a,785.4) rectangle (\b,818.6);}
\Tx{167,825.5}{7.2}{第四小学校} \Tx{292.9,825.5}{7.2}{本町小学校} \Tx{381,825.5}{7.2}{第二小学校}
\Tx{502,825.5}{7.2}{第一小学校} \Tx{670.8,825.5}{7.2}{緑小学校} \Tx{863,825.5}{7.2}{第三小学校}
\Tx{1040.7,825.5}{7.2}{東小学校} \Tx{1272,825.5}{7.2}{南小学校} \Tx{1404,825.5}{7.2}{前原小学校}
\Pl{167.5,774}{7,031㎡} \Pl{291.8,774}{5,075㎡} \Pl{374,774}{7,110㎡}
\Pl{502.5,774}{6,442㎡} \Pl{672,774}{6,647㎡} \Pl{863,774}{8,543㎡}
\Pl{1042,774}{7,279㎡} \Pl{1272,774}{6,476㎡} \Pl{1407,774}{6,476㎡}

% dashed same-site boxes
\draw[bdash, line width=0.8pt] (348,698) rectangle (413,881);
\draw[bdash, line width=0.8pt] (831.6,786) rectangle (896.6,879);
\draw[bdash, line width=0.8pt] (1240,785.5) rectangle (1304,881.6);
\draw[bdash, line width=0.8pt] (1373.5,785.5) rectangle (1438,881.6);
\Tx{372.8,891}{7.4}{同一敷地内} \Tx{862,892}{7.4}{同一敷地内}
\Tx{1272,890}{7.4}{同一敷地内} \Tx{1405.5,890}{7.4}{同一敷地内}

% gray verticals over the school boxes
\draw[grid, line width=1.2pt] (698,410) -- (698,1046);
\draw[grid, line width=1.2pt] (1143,410) -- (1143,1046);

% blue outlines
\draw[bluebox] (616,460) rectangle (667,608);
\draw[bluebox] (935,465) rectangle (985,647);
\draw[bluebox] (1471.5,463) rectangle (1516,918);

% ===== 学童保育 =====
\Cx{165,845.7}{9.5}{342㎡} \Rc{sqGak}{160,852}{172,864} \Tx{165,870.5}{7.5}{さわらび}
\Cx{296,844.5}{9.5}{558㎡} \Rc{sqGak}{289,852}{301.7,864} \Tx{297,871}{7.5}{ほんちょう}
\Cx{380,846}{9.5}{204㎡} \Rc{sqGak}{374.6,852}{387,864} \Tx{380,870.5}{7.5}{たけとんぼ}
\Pl{502,843.5}{1976年} \Rc{sqGak}{495.8,853}{508,864.4} \Cx{530,859.6}{9.5}{202㎡} \Tx{501.6,871}{7.5}{さくらなみ}
\Cx{672,843}{9.5}{650㎡} \Rc{sqGak}{664.6,852}{677,864} \Tx{671,871}{7.5}{みどり}
\Pl{865,844}{1979年} \Rc{sqGak}{860,853}{871,865} \Cx{885.8,859.5}{9.5}{174㎡} \Tx{866,871.6}{7.5}{あかね}
\Cx{1040,844.5}{9.5}{662㎡} \Rc{sqGak}{1035.7,852}{1047,864} \Tx{1041.5,869}{7.5}{たまむし}
\Pl{1272,843}{1973年} \Rc{sqGak}{1265.7,852.6}{1277.6,864.4} \Cx{1291,858.7}{9.5}{139㎡} \Tx{1272,871}{7.5}{みなみ}
\Cx{1408.8,845}{9.5}{314㎡} \Rc{sqGak}{1401.7,852}{1413.8,864} \Tx{1406,871}{7.5}{まえはら}

% ===== 児童館 =====
\Rc{sqJido}{289.7,889.6}{302.8,903} \Tx{296.5,912}{7.5}{本町}
\Rc{sqJido}{665,889.6}{678.4,903} \Tx{671,911}{7.5}{緑}
\Rc{sqJido}{1035,888}{1048,901} \Tx{1042,910}{7.5}{東}
\Rc{sqJido}{1485,888}{1498,901} \Tx{1492,910}{7.5}{貫井南}

% ===== 保育園 =====
\Rc{sqHoi}{168,918.4}{182,932} \Cx{152.4,925}{9.5}{718㎡} \Tx{175.6,937}{7}{さくら}
\Rc{sqHoi}{222,918.4}{236,932} \Tx{257.4,925}{7}{小金井}
\Rc{sqHoi}{859,918.4}{872.7,932} \Tx{866,936.4}{7}{けやき}
\Rc{sqHoi}{1035.7,918.4}{1049.5,932} \Cx{1069.7,924.6}{9.5}{769㎡} \Tx{1043,937}{7}{くりのみ}
\Rc{sqHoi}{1445,918.4}{1459,932} \Cx{1475.5,925}{9.5}{588㎡} \Tx{1452,937}{7}{わかたけ}
\Rc{sqHoiW}{168.8,944}{183.4,958} \Tx{176,963.6}{7}{愛の園}
\Rc{sqHoiW}{497,943}{511.7,957} \Tx{503.4,963.6}{7}{アスクむさし小金井}
\Rc{sqHoiW}{628.8,943}{643.6,957} \Tx{636,963.6}{7}{しんあい}
\Rc{sqHoiW}{754.5,943}{769,957} \Tx{761.5,963.6}{7}{ひなぎく}
\Rc{sqHoiW}{1036,943}{1050.8,957} \Tx{1044.5,963.6}{7}{こむぎ}
\Rc{sqHoiW}{1235,943}{1250,957} \Tx{1242.5,963.6}{7}{ひまわり}
\Rc{sqHoiW}{1391,943}{1405.5,957} \Tx{1398.7,963.6}{7}{光明第二}
\Rc{sqHoiW}{1488,943}{1502.5,957} \Tx{1496,963.6}{7}{貫井}

% ===== 幼稚園 =====
\Rc{sqYo}{286.7,976}{301.5,990.6} \Tx{294,999.6}{7.5}{学芸大附属}
\Rc{sqYo}{370,976}{385,990.6} \Tx{377,999.6}{7.5}{こどものくに}
\Rc{sqYo}{497,976}{512,990.6} \Tx{505,999.6}{7.5}{小金井教会}
\Rc{sqYo}{628.8,976}{644,990.6} \Tx{635,999.6}{7.5}{小金井みどり}
\Rc{sqYo}{967.6,976}{982.8,990.6} \Tx{973.5,999.6}{7.5}{みそら}
\Rc{sqYo}{1086,976}{1101.6,990.6} \Tx{1092.3,999.6}{7.5}{せいしん}
\Rc{sqYo}{1234.7,976}{1250,990.6} \Tx{1241,999.6}{7.5}{朋愛}
\Rc{sqYo}{1445,976}{1460,990.6} \Tx{1451,999.6}{7.5}{ぬくい南}

% ===== 子育て支援 =====
\fill[cShien] (196.5,1012) rectangle (210,1025.5);
\Tx{218,1033}{7.2}{子ども家庭支援ｾﾝﾀｰ}

% note
\draw[fill=white, line width=1pt] (1209,1017) rectangle (1575,1046);
\Tx[anchor=west]{1219,1031}{9.4}{※野川地域の北部境界線は「はけ」の崖線としています。}
\end{tikzpicture}
\end{document}
